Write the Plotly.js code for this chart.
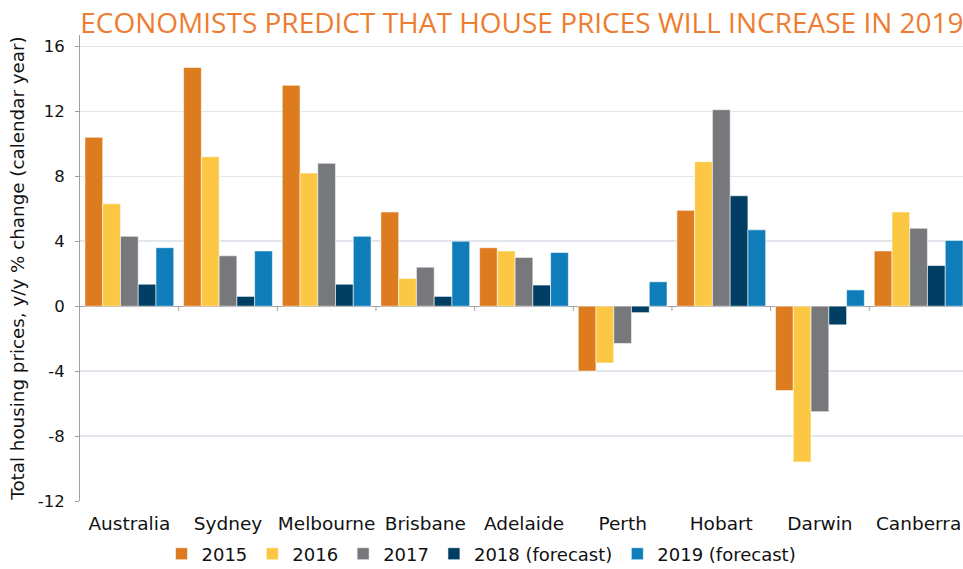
<!DOCTYPE html>
<html>
<head>
<meta charset="utf-8">
<script src="https://cdn.plot.ly/plotly-3.0.1.min.js"></script>
<style>html,body{margin:0;padding:0;background:#fff;}#chart{width:963px;height:569px;}</style>
</head>
<body>
<div id="chart"></div>
<script>
const categories = ["Australia", "Sydney", "Melbourne", "Brisbane", "Adelaide", "Perth", "Hobart", "Darwin", "Canberra"];
const seriesNames = ["2015", "2016", "2017", "2018 (forecast)", "2019 (forecast)"];
const v2015 = [10.4, 14.7, 13.6, 5.8, 3.6, -4.0, 5.9, -5.2, 3.4];
const v2016 = [6.3, 9.2, 8.2, 1.7, 3.4, -3.5, 8.9, -9.6, 5.8];
const v2017 = [4.3, 3.1, 8.8, 2.4, 3.0, -2.3, 12.1, -6.5, 4.8];
const v2018 = [1.35, 0.6, 1.35, 0.6, 1.3, -0.4, 6.8, -1.15, 2.5];
const v2019 = [3.6, 3.4, 4.3, 4.0, 3.3, 1.5, 4.7, 1.0, 4.05];
const yTicks = [-12, -8, -4, 0, 4, 8, 12, 16];
const colors = ["#DD7C1F", "#FCC843", "#77787B", "#003F63", "#0F7DBA"];

const allValues = [v2015, v2016, v2017, v2018, v2019];
const traces = allValues.map((vals, i) => ({
  type: "bar",
  name: seriesNames[i],
  x: categories,
  y: vals,
  marker: {color: colors[i], line: {color: "rgba(255,255,255,0.7)", width: 0.8}},
  hoverinfo: "x+y+name"
}));

const tickShapes = categories.slice(1).map((c, i) => ({
  type: "line", xref: "x", yref: "y",
  x0: i + 0.5, x1: i + 0.5, y0: 0, y1: -0.3,
  line: {color: "#A0A0A0", width: 1}
}));

const layout = {
  width: 963, height: 569,
  margin: {l: 80, r: 0, t: 35, b: 68},
  paper_bgcolor: "#fff", plot_bgcolor: "#fff",
  title: {
    text: "ECONOMISTS PREDICT THAT HOUSE PRICES WILL INCREASE IN 2019",
    font: {family: "Open Sans, sans-serif", size: 28, color: "#EE7D31"},
    x: 0.542, xref: "container", xanchor: "center",
    y: 1 - 23/569, yref: "container", yanchor: "middle"
  },
  barmode: "group",
  bargap: 0.1,
  bargroupgap: 0,
  showlegend: true,
  legend: {
    orientation: "h", x: 0.5, xref: "container", xanchor: "center",
    y: 1 - 554/569, yref: "container", yanchor: "middle",
    font: {family: "DejaVu Sans, Verdana, sans-serif", size: 18, color: "#111"},
    itemwidth: 30, traceorder: "normal"
  },
  xaxis: {
    type: "category",
    range: [-0.5, 8.45],
    showgrid: false, zeroline: false, showline: false,
    ticks: "outside", ticklen: 6, tickcolor: "rgba(0,0,0,0)",
    tickfont: {family: "DejaVu Sans, Verdana, sans-serif", size: 18.5, color: "#111"},
    fixedrange: true
  },
  yaxis: {
    range: [-12, 16.7],
    tickvals: yTicks,
    ticktext: yTicks.map(String),
    showgrid: true, gridcolor: "#E2E7EE", gridwidth: 1.5,
    zeroline: true, zerolinecolor: "#A0A0A0", zerolinewidth: 1,
    showline: true, linecolor: "#A0A0A0", linewidth: 1,
    ticks: "outside", ticklen: 4, tickcolor: "#A0A0A0",
    ticklabelstandoff: 7,
    tickfont: {family: "DejaVu Sans, Verdana, sans-serif", size: 16.5, color: "#111"},
    title: {text: "Total housing prices, y/y % change (calendar year)", font: {family: "DejaVu Sans, Verdana, sans-serif", size: 18.3, color: "#111"}, standoff: 8},
    fixedrange: true
  },
  shapes: tickShapes
};

Plotly.newPlot("chart", traces, layout, {displayModeBar: false, staticPlot: true});
</script>
</body>
</html>
